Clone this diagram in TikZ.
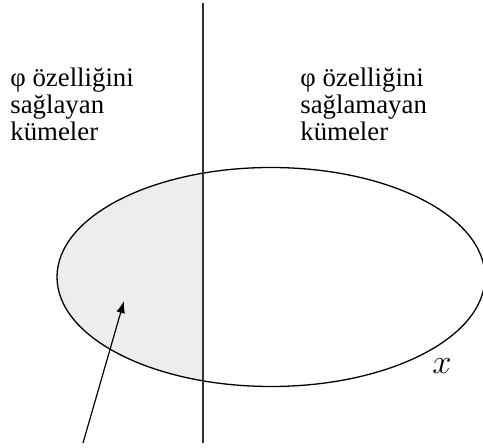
\documentclass[tikz,border=0pt]{standalone}
\usepackage{fontspec}
\setmainfont{Liberation Serif}
\usetikzlibrary{arrows.meta}

\begin{document}
\begin{tikzpicture}[
        x=0.5pt, y=-0.5pt,
        sidetext/.style={align=left, anchor=north west, inner sep=0pt,
                         font=\fontsize{13.4}{13.4}\selectfont},
        arrow/.style={-{Latex[length=6pt,width=4.4pt]}, line width=0.6pt}
    ]
        \useasboundingbox (0,0) rectangle (483,448);

        % shaded part of the set
        \begin{scope}
            \clip (0,0) rectangle (203,448);
            \fill[black!7] (271,277) ellipse [x radius=107pt, y radius=54.75pt];
        \end{scope}
        \draw[line width=0.65pt] (271,277) ellipse [x radius=107pt, y radius=54.75pt];

        \coordinate (divtop) at (203,3);
        \coordinate (divbot) at (203,443);
        \draw[line width=0.65pt, black!80] (divtop) -- (divbot);

        \node[sidetext] (holds) at (10,68) {φ özelliğini\\sağlayan\\kümeler};
        \node[sidetext] (fails) at (300,68) {φ özelliğini\\sağlamayan\\kümeler};
        \node[font=\fontsize{16}{16}\selectfont] (setx) at (442,366) {$x$};

        \coordinate (tail) at (83,443);
        \coordinate (tip) at (124,301);
        \draw[arrow] (tail) -- (tip);
    \end{tikzpicture}
\end{document}
